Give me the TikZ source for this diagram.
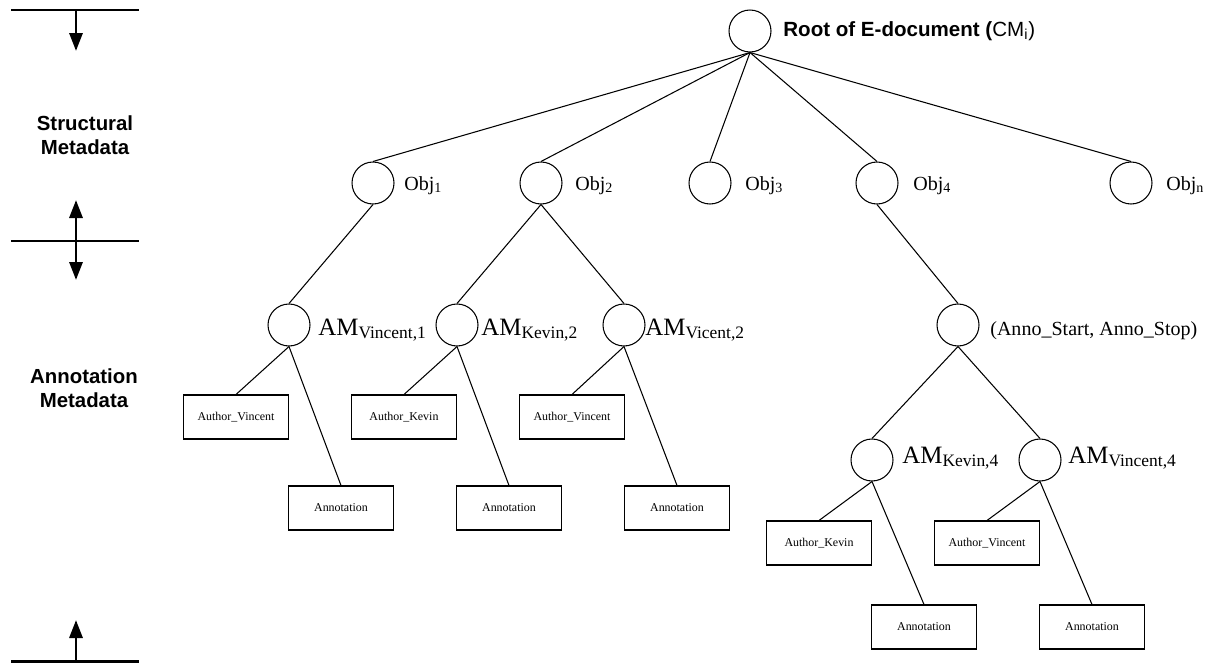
\documentclass[tikz,border=0pt]{standalone}
\usepackage{fontspec}
\setmainfont{Liberation Serif}
\setsansfont{Liberation Sans}
\usetikzlibrary{arrows.meta}

\begin{document}
\begin{tikzpicture}[x=0.02cm,y=-0.02cm,
  circ/.style={shape=circle,draw=black,line width=0.6pt,minimum size=0.84cm,inner sep=0pt},
  box/.style={shape=rectangle,draw=black,line width=0.6pt,minimum width=2.1cm,minimum height=0.88cm,inner sep=0pt,font=\fontsize{6.8}{8}\selectfont},
  lbl/.style={anchor=base west,inner sep=0pt,font=\fontsize{11.4}{13}\selectfont},
  amlbl/.style={anchor=base west,inner sep=0pt,font=\fontsize{14.2}{16}\selectfont},
  side/.style={align=center,inner sep=0pt,font=\sffamily\bfseries\fontsize{11.6}{13.7}\selectfont},
  bar/.style={line width=1.7pt},
  tip/.style={line width=1.7pt,-{Triangle[length=0.36cm,width=0.26cm]}},
  every edge/.style={draw,line width=0.6pt}]
\useasboundingbox (0,0) rectangle (1210,663);

% left axis
\draw[bar] (11,10) -- (139,10);
\draw[bar] (11,241) -- (139,241);
\draw[bar] (11,661) -- (139,661);
\coordinate (ax1) at (76,10);
\coordinate (ax2) at (76,241);
\coordinate (ax3) at (76,661);
\coordinate (tp1) at (76,51);
\coordinate (tp2) at (76,200);
\coordinate (tp3) at (76,280);
\coordinate (tp4) at (76,620);
\draw[tip] (ax1) -- (tp1);
\draw[tip] (ax2) -- (tp2);
\draw[tip] (ax2) -- (tp3);
\draw[tip] (ax3) -- (tp4);
\node[side] (smeta) at (85,135) {Structural\\Metadata};
\node[side] (ameta) at (84,388) {Annotation\\Metadata};

% tree
\node[circ] (root) at (750,31) {};
\node[anchor=base west,inner sep=0pt,font=\sffamily\fontsize{11.7}{14}\selectfont] (rootlbl) at (783,36) {\textbf{Root of E-document (}CM\textsubscript{i})};

\node[circ] (o1) at (373,183) {};
\node[circ] (o2) at (541,183) {};
\node[circ] (o3) at (710,183) {};
\node[circ] (o4) at (877,183) {};
\node[circ] (on) at (1131,183) {};
\node[lbl] (o1lbl) at (404,190) {Obj\textsubscript{1}};
\node[lbl] (o2lbl) at (575,190) {Obj\textsubscript{2}};
\node[lbl] (o3lbl) at (745,190) {Obj\textsubscript{3}};
\node[lbl] (o4lbl) at (913,190) {Obj\textsubscript{4}};
\node[lbl] (onlbl) at (1166,190) {Obj\textsubscript{n}};

\node[circ] (am1) at (289,325) {};
\node[circ] (am2) at (457,325) {};
\node[circ] (am3) at (624,325) {};
\node[circ] (anno) at (958,325) {};
\node[amlbl] (am1lbl) at (318,335) {AM\textsubscript{Vincent,1}};
\node[amlbl] (am2lbl) at (481,335) {AM\textsubscript{Kevin,2}};
\node[amlbl] (am3lbl) at (645,335) {AM\textsubscript{Vicent,2}};
\node[lbl] (annolbl) at (990,335) {(Anno\_Start, Anno\_Stop)};

\node[circ] (am4) at (872,460) {};
\node[circ] (am5) at (1040,460) {};
\node[amlbl] (am4lbl) at (902,463) {AM\textsubscript{Kevin,4}};
\node[amlbl] (am5lbl) at (1068,463) {AM\textsubscript{Vincent,4}};

\node[box] (au1) at (236,417) {Author\_Vincent};
\node[box] (au2) at (404,417) {Author\_Kevin};
\node[box] (au3) at (572,417) {Author\_Vincent};
\node[box] (an1) at (341,508) {Annotation};
\node[box] (an2) at (509,508) {Annotation};
\node[box] (an3) at (677,508) {Annotation};
\node[box] (au4) at (819,543) {Author\_Kevin};
\node[box] (au5) at (987,543) {Author\_Vincent};
\node[box] (an4) at (924,627) {Annotation};
\node[box] (an5) at (1092,627) {Annotation};

\path (root.south) edge (o1.north);
\path (root.south) edge (o2.north);
\path (root.south) edge (o3.north);
\path (root.south) edge (o4.north);
\path (root.south) edge (on.north);
\path (o1.south) edge (am1.north);
\path (o2.south) edge (am2.north);
\path (o2.south) edge (am3.north);
\path (o4.south) edge (anno.north);
\path (anno.south) edge (am4.north);
\path (anno.south) edge (am5.north);
\path (am1.south) edge (au1.north);
\path (am1.south) edge (an1.north);
\path (am2.south) edge (au2.north);
\path (am2.south) edge (an2.north);
\path (am3.south) edge (au3.north);
\path (am3.south) edge (an3.north);
\path (am4.south) edge (au4.north);
\path (am4.south) edge (an4.north);
\path (am5.south) edge (au5.north);
\path (am5.south) edge (an5.north);
\end{tikzpicture}
\end{document}
